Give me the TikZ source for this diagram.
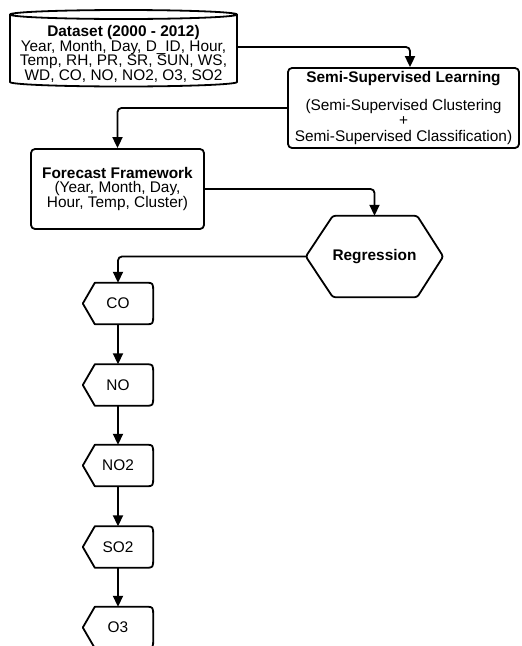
\documentclass[tikz,border=0pt]{standalone}
\usepackage{fontspec}
\setmainfont{Liberation Sans}
\usetikzlibrary{arrows.meta,calc}

\tikzset{
  every node/.style={font=\fontsize{15.4}{14.7}\selectfont, align=center, inner sep=0pt},
  outline/.style={draw=black, line width=1.8pt, line join=round},
  boxnode/.style={outline, rounded corners=4pt},
  dispnode/.style={minimum width=70pt, minimum height=41pt},
  flow/.style={line width=1.8pt, rounded corners=4pt, -{Triangle[length=11pt,width=10pt]}},
}

% pointed-left "display" outline drawn around a named node
\newcommand\pollutantframe[1]{%
  \draw[outline] (#1.west) -- ([xshift=12pt]#1.north west)
    -- ([xshift=-7pt]#1.north east) .. controls (#1.north east) .. ([yshift=-10pt]#1.north east)
    -- ([yshift=10pt]#1.south east) .. controls (#1.south east) .. ([xshift=-7pt]#1.south east)
    -- ([xshift=12pt]#1.south west) -- cycle;}

\begin{document}
\begin{tikzpicture}[x=1pt,y=1pt]
\useasboundingbox (0,0) rectangle (522,-646);
\clip (0,0) rectangle (522,-646);
\fill[white] (0,0) rectangle (522,-646);

% dataset cylinder
\draw[outline] (10,-14.5) -- (10,-82) arc[start angle=180,end angle=360,x radius=113.5pt,y radius=4.5pt] -- (237,-14.5);
\draw[outline] (123.5,-14.5) ellipse[x radius=113.5pt,y radius=4.5pt];
\node[minimum width=227pt] (data) at (123.5,-54)
  {\textbf{Dataset (2000 - 2012)}\\Year, Month, Day, D\_ID, Hour,\\Temp, RH, PR, SR, SUN, WS,\\WD, CO, NO, NO2, O3, SO2};

% processing boxes
\node[boxnode, minimum width=231pt, minimum height=80pt] (ssl) at (403.5,-108)
  {\textbf{Semi-Supervised Learning}\\[13pt](Semi-Supervised Clustering\\[0.5pt]+\\[1pt]Semi-Supervised Classification)};
\node[boxnode, minimum width=173pt, minimum height=80pt] (fc) at (117.5,-189)
  {\textbf{Forecast Framework}\\(Year, Month, Day,\\Hour, Temp, Cluster)};

% regression hexagon
\node[minimum width=137pt, minimum height=81pt] (reg) at (374.5,-256.5) {\textbf{Regression}};
\draw[outline, rounded corners=2.5pt] (reg.west) -- ([xshift=27pt]reg.north west)
  -- ([xshift=-26pt]reg.north east) -- (reg.east) -- ([xshift=-26pt]reg.south east)
  -- ([xshift=27pt]reg.south west) -- cycle;

% pollutant outputs
\node[dispnode] (co)  at (118,-303.5) {CO};
\node[dispnode] (no)  at (118,-385)   {NO};
\node[dispnode] (no2) at (118,-465.5) {NO2};
\node[dispnode] (so2) at (118,-547)   {SO2};
\node[dispnode] (o3)  at (118,-627.5) {O3};
\foreach \n in {co,no,no2,so2,o3} {\pollutantframe{\n}}

% connectors
\draw[flow] ([yshift=7pt]data.east) -| ([xshift=6.5pt]ssl.north);
\draw[flow] (ssl.west) -| (fc.north);
\draw[flow] (fc.east) -| (reg.north);
\draw[flow] (reg.west) -| (co.north);
\draw[flow] (co.south) -- (no.north);
\draw[flow] (no.south) -- (no2.north);
\draw[flow] (no2.south) -- (so2.north);
\draw[flow] (so2.south) -- (o3.north);
\end{tikzpicture}
\end{document}
